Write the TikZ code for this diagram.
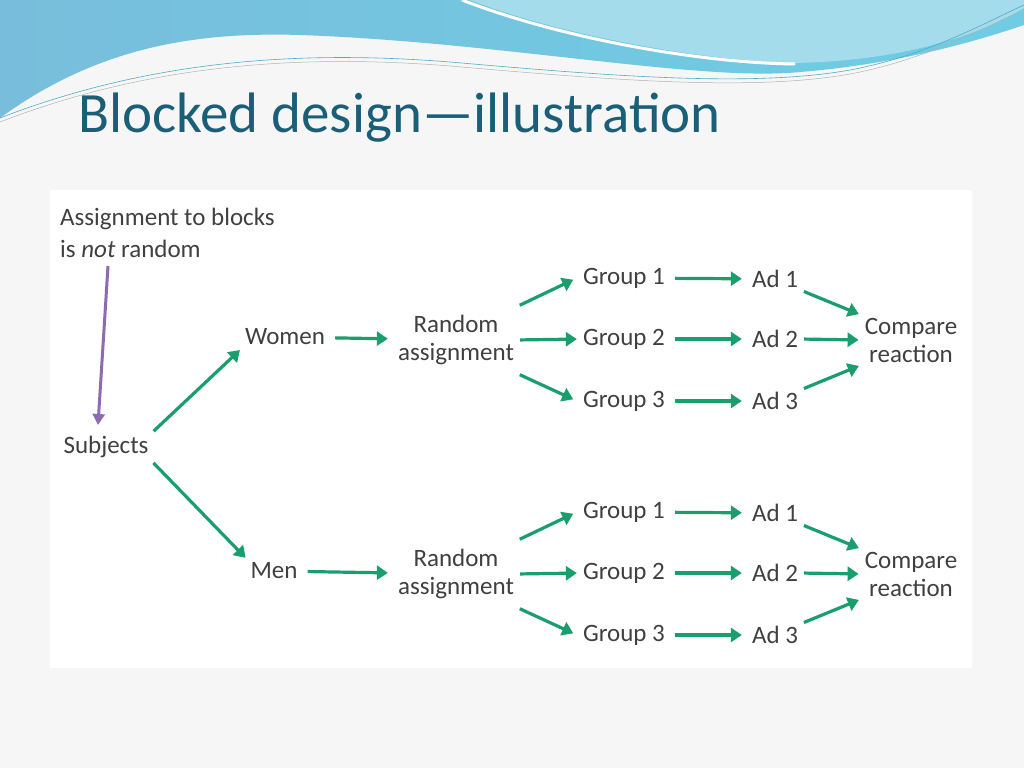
\documentclass[tikz,border=0pt]{standalone}
\usepackage{fontspec}
\setmainfont{Carlito}
\usetikzlibrary{arrows.meta}
\definecolor{grn}{HTML}{1A9E6E}
\definecolor{purp}{HTML}{8E6BAE}
\definecolor{ttl}{HTML}{1B5E78}
\definecolor{txt}{HTML}{404040}
\definecolor{hb1}{RGB}{120,190,220}
\definecolor{hb2}{RGB}{110,205,228}
\definecolor{hb3}{RGB}{165,220,235}
\definecolor{hl}{RGB}{80,170,200}
\definecolor{bg}{HTML}{F6F6F6}
\begin{document}
\begin{tikzpicture}[x=1pt,y=-1pt,
  lbl/.style={font=\fontsize{25}{27}\selectfont, text=txt, inner sep=2pt, align=center},
  arr/.style={draw=grn, line width=3.2pt, -{Triangle[length=11pt,width=14pt]}, shorten <=4pt, shorten >=4pt},
  parr/.style={draw=purp, line width=3pt, -{Triangle[length=11pt,width=12pt]}}]
\useasboundingbox (0,0) rectangle (1024,768);
\fill[bg] (0,0) rectangle (1024,768);
% header
\shade[left color=hb1, right color=hb2]
 (0,0) -- (0,118) .. controls (100,45) and (200,32) .. (300,35) .. controls (500,42) and (700,82) .. (800,72) .. controls (900,64) and (980,40) .. (1024,25) -- (1024,0) -- cycle;
\fill[hb3] (470,0) .. controls (560,35) and (700,60) .. (790,63) .. controls (900,62) and (980,35) .. (1024,8) -- (1024,0) -- cycle;
\draw[white, line width=3pt] (462,0) .. controls (560,38) and (700,63) .. (795,64);
\draw[hl, line width=0.6pt] (0,118) .. controls (150,60) and (300,50) .. (450,62) .. controls (600,75) and (750,88) .. (850,70) .. controls (930,55) and (990,20) .. (1024,5);
\draw[gray!60, line width=0.5pt] (0,122) .. controls (150,64) and (300,54) .. (450,66) .. controls (600,79) and (750,92) .. (850,74) .. controls (930,59) and (990,24) .. (1024,10);
\node[anchor=west, font=\fontsize{57}{60}\selectfont, text=ttl, inner sep=0] (title) at (78,118) {Blocked design—illustration};
% panel
\fill[white] (50,190) rectangle (972,668);
\node[lbl, anchor=west, align=left, font=\fontsize{25}{32}\selectfont] (note) at (58,233) {Assignment to blocks\\is \textit{not} random};
\coordinate (ps) at (108,266);
\coordinate (pe) at (98,425);
\node[lbl] (subj) at (106,447) {Subjects};
\draw[parr] (ps) -- (pe);
\node[lbl] (women) at (285,337) {Women};
\node[lbl] (men) at (274,571) {Men};
\draw[arr] (subj.north east) -- (women.south west);
\draw[arr] (subj.south east) -- (men.north west);
\foreach \t/\y/\n in {w/340/women, m/574/men}{
  \node[lbl, font=\fontsize{25}{28}\selectfont] (ra\t) at (456,\y) {Random\\assignment};
  \draw[arr, shorten <=8pt, shorten >=8pt] (\n) -- (ra\t);
  \node[lbl] (g1\t) at (624,\y-62) {Group 1};
  \node[lbl] (g2\t) at (624,\y-1) {Group 2};
  \node[lbl] (g3\t) at (624,\y+61) {Group 3};
  \node[lbl] (a1\t) at (775,\y-61) {Ad 1};
  \node[lbl] (a2\t) at (775,\y-1) {Ad 2};
  \node[lbl] (a3\t) at (775,\y+61) {Ad 3};
  \node[lbl, font=\fontsize{25}{28}\selectfont] (c\t) at (911,\y) {Compare\\reaction};
  \draw[arr] ([yshift=6pt]ra\t.north east) -- ([xshift=-4pt]g1\t.west);
  \draw[arr] (ra\t.east) -- (g2\t.west);
  \draw[arr] ([yshift=-6pt]ra\t.south east) -- ([xshift=-4pt]g3\t.west);
  \foreach \i in {1,2,3}{\draw[arr, shorten <=8pt, shorten >=8pt] (g\i\t) -- (a\i\t);}
  \draw[arr] (a1\t.south east) -- (c\t.north west);
  \draw[arr] (a2\t.east) -- (c\t.west);
  \draw[arr] (a3\t.north east) -- (c\t.south west);
}
\end{tikzpicture}
\end{document}
